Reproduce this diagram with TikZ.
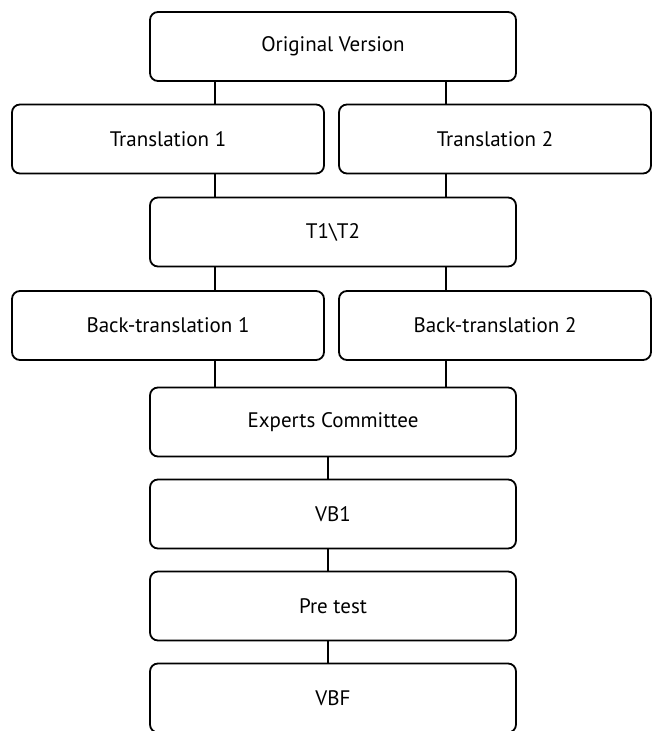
\documentclass[tikz,border=0pt]{standalone}
\usepackage{fontspec}
\setmainfont{PT Sans}

\begin{document}
\begin{tikzpicture}[x=1pt,y=-1pt,
  box/.style={draw,line width=1.8pt,rounded corners=8pt,minimum height=69pt,
    inner sep=0pt,font=\fontsize{21}{25}\selectfont},
  wide/.style={box,minimum width=366pt},
  half/.style={box,minimum width=312pt},
  link/.style={line width=1.8pt}]
\useasboundingbox (0,0) rectangle (651,731);
\node[wide] (ov) at (333,46.5) {Original Version};
\node[half] (t1) at (168,139) {Translation 1};
\node[half] (t2) at (495,139) {Translation 2};
\node[wide] (tt) at (333,232) {T1\textbackslash T2};
\node[half] (b1) at (168,325.5) {Back-translation 1};
\node[half] (b2) at (495,325.5) {Back-translation 2};
\node[wide] (ec) at (333,422) {Experts Committee};
\node[wide] (vb1) at (333,514) {VB1};
\node[wide] (pt) at (333,606) {Pre test};
\node[wide] (vbf) at (333,698) {VBF};
\coordinate (cl) at (215,0);
\coordinate (cr) at (446,0);
\coordinate (cm) at (328,0);
\draw[link] (ov.south -| cl) -- (t1.north -| cl);
\draw[link] (ov.south -| cr) -- (t2.north -| cr);
\draw[link] (t1.south -| cl) -- (tt.north -| cl);
\draw[link] (t2.south -| cr) -- (tt.north -| cr);
\draw[link] (tt.south -| cl) -- (b1.north -| cl);
\draw[link] (tt.south -| cr) -- (b2.north -| cr);
\draw[link] (b1.south -| cl) -- (ec.north -| cl);
\draw[link] (b2.south -| cr) -- (ec.north -| cr);
\draw[link] (ec.south -| cm) -- (vb1.north -| cm);
\draw[link] (vb1.south -| cm) -- (pt.north -| cm);
\draw[link] (pt.south -| cm) -- (vbf.north -| cm);
\end{tikzpicture}
\end{document}
